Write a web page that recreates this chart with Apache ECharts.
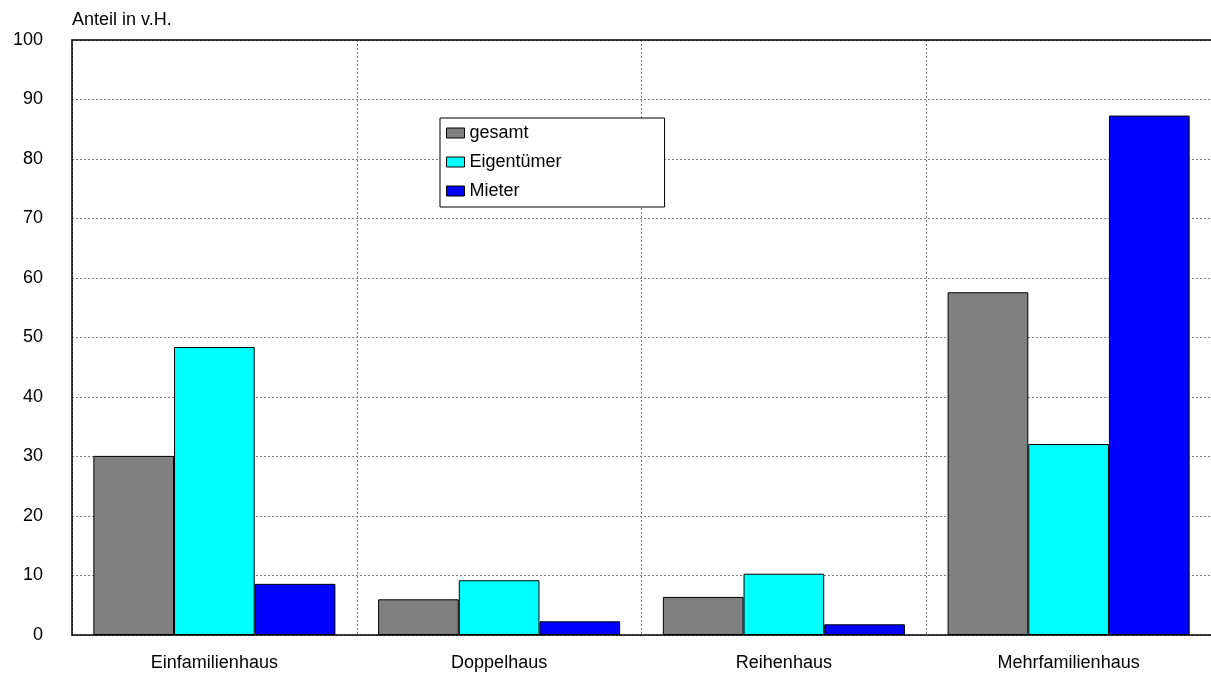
<!DOCTYPE html>
<html>
<head>
<meta charset="utf-8">
<script src="https://cdn.jsdelivr.net/npm/echarts@6/dist/echarts.min.js"></script>
<style>
html,body{margin:0;padding:0;background:#fff;}
#c{width:1211px;height:673px;}
</style>
</head>
<body>
<div id="c"></div>
<script>
const categories = ['Einfamilienhaus', 'Doppelhaus', 'Reihenhaus', 'Mehrfamilienhaus'];
const seriesNames = ['gesamt', 'Eigentümer', 'Mieter'];
const gesamt = [30.1, 6.0, 6.4, 57.6];
const eigentuemer = [48.4, 9.2, 10.3, 32.1];
const mieter = [8.6, 2.3, 1.8, 87.3];
const yTicks = [0, 10, 20, 30, 40, 50, 60, 70, 80, 90, 100];
const colors = ['#808080', '#00ffff', '#0000ff'];
const values = [gesamt, eigentuemer, mieter];

const FONT = '"Liberation Sans", Arial, sans-serif';
const chart = echarts.init(document.getElementById('c'));
chart.setOption({
  animation: false,
  backgroundColor: '#fff',
  textStyle: { fontFamily: FONT, color: '#000' },
  grid: { left: 72, right: -3, top: 40, bottom: 38, show: false },
  legend: {
    orient: 'vertical',
    left: 440,
    top: 118,
    data: seriesNames,
    icon: 'rect',
    itemWidth: 18,
    itemHeight: 10,
    itemGap: 9,
    padding: [5, 103, 6, 6],
    borderColor: '#000',
    borderWidth: 1,
    backgroundColor: '#fff',
    textStyle: { fontFamily: FONT, fontSize: 18, color: '#000', lineHeight: 20 },
    itemStyle: { borderColor: '#000', borderWidth: 1 }
  },
  xAxis: [{
    type: 'category',
    data: categories,
    axisLine: { show: true, lineStyle: { color: '#000', width: 1.5 } },
    axisTick: { show: false },
    axisLabel: { fontFamily: FONT, fontSize: 18, color: '#000', margin: 19 },
    splitLine: { show: true, lineStyle: { color: '#808080', type: [2, 2], width: 1 } }
  }, {
    type: 'category',
    position: 'top',
    data: categories,
    axisLine: { show: true, onZero: false, lineStyle: { color: '#000', width: 1.5 } },
    axisTick: { show: false },
    axisLabel: { show: false },
    splitLine: { show: false }
  }],
  yAxis: {
    type: 'value',
    min: 0,
    max: 100,
    interval: 10,
    name: 'Anteil in v.H.',
    nameLocation: 'end',
    nameGap: 11,
    nameTextStyle: { fontFamily: FONT, fontSize: 18, color: '#000', align: 'left', verticalAlign: 'bottom' },
    axisLine: { show: true, lineStyle: { color: '#000', width: 1.5 } },
    axisTick: { show: false },
    axisLabel: {
      fontFamily: FONT, fontSize: 18, color: '#000', margin: 29,
      formatter: v => yTicks.includes(v) ? String(v) : ''
    },
    splitLine: { show: true, lineStyle: { color: '#808080', type: [2, 2], width: 1 } }
  },
  series: seriesNames.map((n, i) => ({
    name: n,
    type: 'bar',
    xAxisIndex: 0,
    data: values[i],
    barGap: '0%',
    barCategoryGap: '15%',
    itemStyle: { color: colors[i], borderColor: '#000', borderWidth: 1 }
  }))
});
</script>
</body>
</html>
